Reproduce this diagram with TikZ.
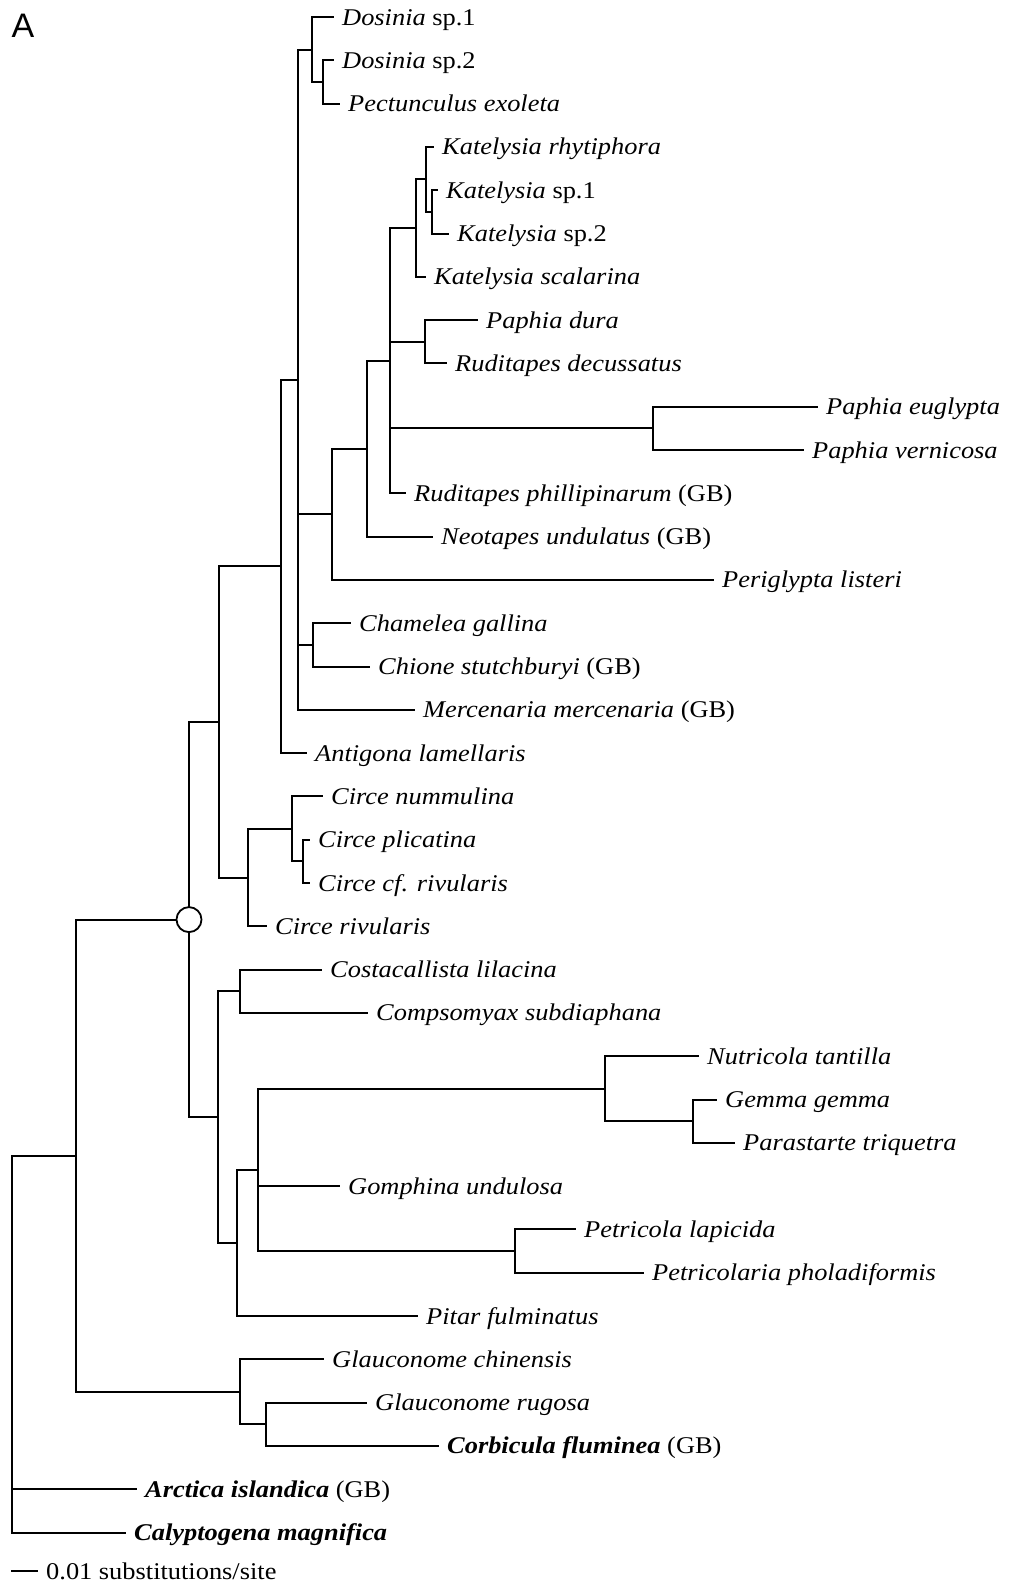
\documentclass[tikz,border=0pt]{standalone}
\usepackage{fontspec}
\setmainfont{Liberation Serif}[FakeStretch=1.1]
\newfontfamily\afont{Liberation Sans}
\begin{document}
\begin{tikzpicture}[x=1pt,y=-1pt,
  br/.style={line width=2pt, line cap=rect},
  lab/.style={anchor=base west, inner sep=0pt, xshift=9pt, yshift=-8pt, font=\fontsize{24}{27}\selectfont},
  circnode/.style={circle, draw, line width=1.8pt, fill=white, minimum size=25pt, inner sep=0pt}]
\useasboundingbox (0,0) rectangle (1009,1583);
\node[anchor=base, inner sep=0pt, font=\afont\fontsize{34}{34}\selectfont] (A) at (23,37) {A};
% internal nodes
\coordinate (D2) at (323,82);
\coordinate (D1) at (312,49.5);
\coordinate (K3) at (432,211.9);
\coordinate (K2) at (426,179.4);
\coordinate (K1) at (416,228.1);
\coordinate (PR) at (425,341.8);
\coordinate (PE) at (653,428.4);
\coordinate (C390) at (390,360.7);
\coordinate (C367) at (367,448.7);
\coordinate (C332) at (332,514.3);
\coordinate (CC) at (313,644.9);
\coordinate (C298) at (298,379.7);
\coordinate (C281) at (281,566.4);
\coordinate (CP) at (303,861.4);
\coordinate (CN) at (292,828.9);
\coordinate (CR) at (248,877.6);
\coordinate (C219) at (219,722);
\coordinate (CO) at (240,991.3);
\coordinate (GP) at (693,1121.2);
\coordinate (NU) at (605,1088.7);
\coordinate (PT) at (515,1251);
\coordinate (G258) at (258,1169.9);
\coordinate (C237) at (237,1243);
\coordinate (C218) at (218,1117.1);
\coordinate (CI) at (189,919.6);
\coordinate (GR) at (266,1424.3);
\coordinate (GC) at (240,1391.8);
\coordinate (C76) at (76,1155.7);
\coordinate (R) at (12,1344);
% leaves
\coordinate (l1) at (333,17);
\coordinate (l2) at (333,60.3);
\coordinate (l3) at (339,103.6);
\coordinate (l4) at (433,146.9);
\coordinate (l5) at (437,190.2);
\coordinate (l6) at (448,233.5);
\coordinate (l7) at (425,276.8);
\coordinate (l8) at (477,320.1);
\coordinate (l9) at (446,363.4);
\coordinate (l10) at (817,406.7);
\coordinate (l11) at (803,450);
\coordinate (l12) at (405,493.3);
\coordinate (l13) at (432,536.6);
\coordinate (l14) at (713,579.9);
\coordinate (l15) at (350,623.2);
\coordinate (l16) at (369,666.5);
\coordinate (l17) at (414,709.8);
\coordinate (l18) at (306,753.1);
\coordinate (l19) at (322,796.4);
\coordinate (l20) at (309,839.7);
\coordinate (l21) at (309,883);
\coordinate (l22) at (266,926.3);
\coordinate (l23) at (321,969.6);
\coordinate (l24) at (367,1012.9);
\coordinate (l25) at (698,1056.2);
\coordinate (l26) at (716,1099.5);
\coordinate (l27) at (734,1142.8);
\coordinate (l28) at (339,1186.1);
\coordinate (l29) at (575,1229.4);
\coordinate (l30) at (643,1272.7);
\coordinate (l31) at (417,1316);
\coordinate (l32) at (323,1359.3);
\coordinate (l33) at (366,1402.6);
\coordinate (l34) at (438,1445.9);
\coordinate (l35) at (136,1489.2);
\coordinate (l36) at (125,1532.5);
% labels
\node[lab] (t1) at (l1) {\textit{Dosinia} sp.1};
\node[lab] (t2) at (l2) {\textit{Dosinia} sp.2};
\node[lab] (t3) at (l3) {\textit{Pectunculus exoleta}};
\node[lab] (t4) at (l4) {\textit{Katelysia rhytiphora}};
\node[lab] (t5) at (l5) {\textit{Katelysia} sp.1};
\node[lab] (t6) at (l6) {\textit{Katelysia} sp.2};
\node[lab] (t7) at (l7) {\textit{Katelysia scalarina}};
\node[lab] (t8) at (l8) {\textit{Paphia dura}};
\node[lab] (t9) at (l9) {\textit{Ruditapes decussatus}};
\node[lab] (t10) at (l10) {\textit{Paphia euglypta}};
\node[lab] (t11) at (l11) {\textit{Paphia vernicosa}};
\node[lab] (t12) at (l12) {\textit{Ruditapes phillipinarum} (GB)};
\node[lab] (t13) at (l13) {\textit{Neotapes undulatus} (GB)};
\node[lab] (t14) at (l14) {\textit{Periglypta listeri}};
\node[lab] (t15) at (l15) {\textit{Chamelea gallina}};
\node[lab] (t16) at (l16) {\textit{Chione stutchburyi} (GB)};
\node[lab] (t17) at (l17) {\textit{Mercenaria mercenaria} (GB)};
\node[lab] (t18) at (l18) {\textit{Antigona lamellaris}};
\node[lab] (t19) at (l19) {\textit{Circe nummulina}};
\node[lab] (t20) at (l20) {\textit{Circe plicatina}};
\node[lab] (t21) at (l21) {\textit{Circe cf. rivularis}};
\node[lab] (t22) at (l22) {\textit{Circe rivularis}};
\node[lab] (t23) at (l23) {\textit{Costacallista lilacina}};
\node[lab] (t24) at (l24) {\textit{Compsomyax subdiaphana}};
\node[lab] (t25) at (l25) {\textit{Nutricola tantilla}};
\node[lab] (t26) at (l26) {\textit{Gemma gemma}};
\node[lab] (t27) at (l27) {\textit{Parastarte triquetra}};
\node[lab] (t28) at (l28) {\textit{Gomphina undulosa}};
\node[lab] (t29) at (l29) {\textit{Petricola lapicida}};
\node[lab] (t30) at (l30) {\textit{Petricolaria pholadiformis}};
\node[lab] (t31) at (l31) {\textit{Pitar fulminatus}};
\node[lab] (t32) at (l32) {\textit{Glauconome chinensis}};
\node[lab] (t33) at (l33) {\textit{Glauconome rugosa}};
\node[lab] (t34) at (l34) {\textbf{\textit{Corbicula fluminea}} (GB)};
\node[lab] (t35) at (l35) {\textbf{\textit{Arctica islandica}} (GB)};
\node[lab] (t36) at (l36) {\textbf{\textit{Calyptogena magnifica}}};
% branches
\draw[br] (D1) |- (l1);
\draw[br] (D1) |- (D2);
\draw[br] (D2) |- (l2);
\draw[br] (D2) |- (l3);
\draw[br] (K2) |- (l4);
\draw[br] (K2) |- (K3);
\draw[br] (K3) |- (l5);
\draw[br] (K3) |- (l6);
\draw[br] (K1) |- (K2);
\draw[br] (K1) |- (l7);
\draw[br] (PR) |- (l8);
\draw[br] (PR) |- (l9);
\draw[br] (PE) |- (l10);
\draw[br] (PE) |- (l11);
\draw[br] (C390) |- (K1);
\draw[br] (C390) |- (PR);
\draw[br] (C390) |- (PE);
\draw[br] (C390) |- (l12);
\draw[br] (C367) |- (C390);
\draw[br] (C367) |- (l13);
\draw[br] (C332) |- (C367);
\draw[br] (C332) |- (l14);
\draw[br] (CC) |- (l15);
\draw[br] (CC) |- (l16);
\draw[br] (C298) |- (D1);
\draw[br] (C298) |- (C332);
\draw[br] (C298) |- (CC);
\draw[br] (C298) |- (l17);
\draw[br] (C281) |- (C298);
\draw[br] (C281) |- (l18);
\draw[br] (CP) |- (l20);
\draw[br] (CP) |- (l21);
\draw[br] (CN) |- (l19);
\draw[br] (CN) |- (CP);
\draw[br] (CR) |- (CN);
\draw[br] (CR) |- (l22);
\draw[br] (C219) |- (C281);
\draw[br] (C219) |- (CR);
\draw[br] (CO) |- (l23);
\draw[br] (CO) |- (l24);
\draw[br] (GP) |- (l26);
\draw[br] (GP) |- (l27);
\draw[br] (NU) |- (l25);
\draw[br] (NU) |- (GP);
\draw[br] (PT) |- (l29);
\draw[br] (PT) |- (l30);
\draw[br] (G258) |- (NU);
\draw[br] (G258) |- (l28);
\draw[br] (G258) |- (PT);
\draw[br] (C237) |- (G258);
\draw[br] (C237) |- (l31);
\draw[br] (C218) |- (CO);
\draw[br] (C218) |- (C237);
\draw[br] (CI) |- (C219);
\draw[br] (CI) |- (C218);
\draw[br] (GR) |- (l33);
\draw[br] (GR) |- (l34);
\draw[br] (GC) |- (l32);
\draw[br] (GC) |- (GR);
\draw[br] (C76) |- (CI);
\draw[br] (C76) |- (GC);
\draw[br] (R) |- (C76);
\draw[br] (R) |- (l35);
\draw[br] (R) |- (l36);
\node[circnode] (circ) at (CI) {};
% scale bar
\coordinate (s0) at (12,1571);
\coordinate (s1) at (37,1571);
\draw[br] (s0) -- (s1);
\node[lab] (st) at (s1) {0.01 substitutions/site};
\end{tikzpicture}
\end{document}
